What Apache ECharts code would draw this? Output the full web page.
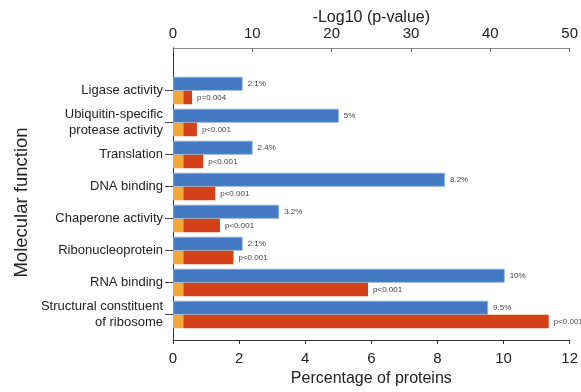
<!DOCTYPE html>
<html>
<head>
<meta charset="utf-8">
<script src="https://cdn.jsdelivr.net/npm/echarts@6/dist/echarts.min.js"></script>
<style>
  html, body { margin: 0; padding: 0; background: #fff; }
  #chart { width: 581px; height: 392px; }
</style>
</head>
<body>
<div id="chart"></div>
<script>
// Molecular function categories, top to bottom
const categories = [
  'Ligase activity',
  'Ubiquitin-specific\nprotease activity',
  'Translation',
  'DNA binding',
  'Chaperone activity',
  'Ribonucleoprotein',
  'RNA binding',
  'Structural constituent\nof ribosome'
];
// Share of proteins in each category (%)
const percentValues = [2.1, 5, 2.4, 8.2, 3.2, 2.1, 10, 9.5];
// Enrichment significance, -log10(p)
const logPValues = [2.4, 3.0, 3.8, 5.3, 5.9, 7.6, 24.5, 47.2];
// p-value annotations
const pLabels = ['p=0.004', 'p<0.001', 'p<0.001', 'p<0.001', 'p<0.001', 'p<0.001', 'p<0.001', 'p<0.001'];
// Significance cut-off, -log10(0.05)
const threshold = 1.3;

// Tick values
const percentTicks = { min: 0, max: 12, interval: 2 };
const logTicks = { min: 0, max: 50, interval: 10 };

const FONT = '"Liberation Sans", Arial, sans-serif';
const BLUE = '#4279c2';
const RED = '#d44119';
const ORANGE = '#f4a83a';

const chart = echarts.init(document.getElementById('chart'), null, { renderer: 'canvas' });

const option = {
  animation: false,
  textStyle: { fontFamily: FONT },
  grid: [
    // frame: carries the visible axes
    { left: 173, right: 10, top: 48, bottom: 46, containLabel: false },
    // plotting band for the bars
    { left: 173, right: 10, top: 74.5, bottom: 61.5, containLabel: false }
  ],
  xAxis: [
    {
      gridIndex: 0, type: 'value', position: 'bottom',
      min: percentTicks.min, max: percentTicks.max, interval: percentTicks.interval,
      name: 'Percentage of proteins', nameLocation: 'middle', nameGap: 31,
      nameMoveOverlap: false,
      nameTextStyle: { fontSize: 16, color: '#222', fontFamily: FONT },
      axisLine: { show: true, lineStyle: { color: '#333', width: 1 } },
      axisTick: { show: true, inside: false, length: 4, lineStyle: { color: '#333' } },
      axisLabel: { fontSize: 15, color: '#222', margin: 11, fontFamily: FONT },
      splitLine: { show: false }
    },
    {
      gridIndex: 0, type: 'value', position: 'top',
      min: logTicks.min, max: logTicks.max, interval: logTicks.interval,
      name: '-Log10 (p-value)', nameLocation: 'middle', nameGap: 22,
      nameMoveOverlap: false,
      nameTextStyle: { fontSize: 16, color: '#222', fontFamily: FONT },
      axisLine: { show: true, lineStyle: { color: '#888', width: 1 } },
      axisTick: { show: true, inside: true, length: 4, lineStyle: { color: '#666' } },
      axisLabel: { fontSize: 15, color: '#222', margin: 7, fontFamily: FONT },
      splitLine: { show: false }
    },
    {
      gridIndex: 1, type: 'value', show: false,
      min: percentTicks.min, max: percentTicks.max
    },
    {
      gridIndex: 1, type: 'value', show: false,
      min: logTicks.min, max: logTicks.max
    }
  ],
  yAxis: [
    {
      gridIndex: 0, type: 'value', min: 0, max: 1,
      axisLine: { show: true, lineStyle: { color: '#333', width: 1 } },
      axisTick: { show: false }, axisLabel: { show: false }, splitLine: { show: false }
    },
    {
      gridIndex: 1, type: 'category', data: categories, inverse: true,
      name: 'Molecular function', nameLocation: 'middle', nameGap: 142,
      nameMoveOverlap: false,
      nameTextStyle: { fontSize: 18.5, color: '#222', fontFamily: FONT },
      axisLine: { show: false },
      axisTick: { show: true, alignWithLabel: true, length: 8, lineStyle: { color: '#444' } },
      axisLabel: { fontSize: 13, color: '#222', margin: 10, lineHeight: 15.5, align: 'right', fontFamily: FONT },
      splitLine: { show: false }
    }
  ],
  series: [
    {
      name: 'Percentage of proteins',
      type: 'bar', xAxisIndex: 2, yAxisIndex: 1,
      data: percentValues,
      barWidth: 14, barGap: '0%',
      itemStyle: { color: BLUE, borderColor: '#8fb2e0', borderWidth: 0.8 },
      label: {
        show: true, position: 'right', distance: 5,
        fontSize: 8, color: '#444', fontFamily: FONT,
        formatter: p => p.value + '%'
      }
    },
    {
      name: 'Threshold',
      type: 'bar', xAxisIndex: 3, yAxisIndex: 1, stack: 'p',
      data: categories.map(() => threshold),
      barWidth: 13.5, barGap: '0%',
      itemStyle: { color: ORANGE }
    },
    {
      name: '-Log10 (p-value)',
      type: 'bar', xAxisIndex: 3, yAxisIndex: 1, stack: 'p',
      data: logPValues.map(v => v - threshold),
      barWidth: 13.5, barGap: '0%',
      itemStyle: { color: RED },
      label: {
        show: true, position: 'right', distance: 5,
        fontSize: 8, color: '#444', fontFamily: FONT,
        formatter: p => pLabels[p.dataIndex]
      }
    }
  ]
};

chart.setOption(option);
</script>
</body>
</html>
